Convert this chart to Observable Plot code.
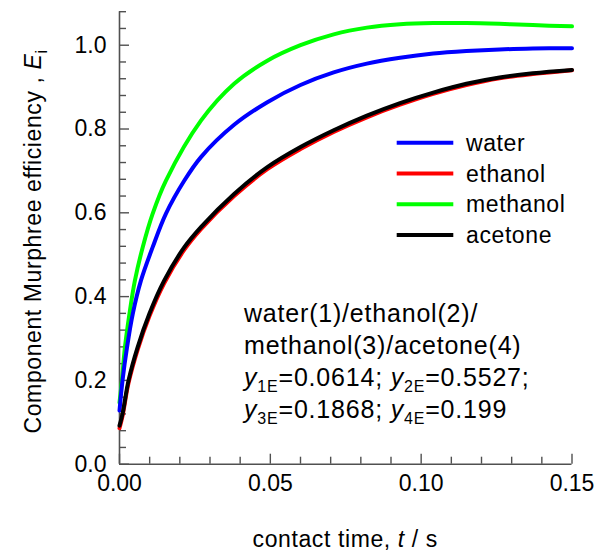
<!DOCTYPE html>
<html>
<head>
<meta charset="utf-8">
<script src="https://cdn.jsdelivr.net/npm/d3@7"></script>
<script src="https://cdn.jsdelivr.net/npm/@observablehq/plot@0.6"></script>
<style>
  html, body { margin: 0; padding: 0; background: #fff; }
  #chart svg { display: block; }
</style>
</head>
<body>
<div id="chart"></div>
<script>
// Contact time (s) and component Murphree efficiency for each component
const tWater    = [0, 0.001, 0.0025, 0.0044, 0.0071, 0.011, 0.0154, 0.0215, 0.027, 0.038, 0.049, 0.060, 0.071, 0.082, 0.093, 0.104, 0.115, 0.126, 0.137, 0.15];
const eWater    = [0.128, 0.20, 0.279, 0.359, 0.438, 0.518, 0.598, 0.677, 0.733, 0.810, 0.864, 0.905, 0.935, 0.956, 0.970, 0.980, 0.986, 0.990, 0.992, 0.993];

const tMethanol = [0, 0.0008, 0.0018, 0.0033, 0.0051, 0.0077, 0.011, 0.0154, 0.027, 0.038, 0.049, 0.060, 0.071, 0.082, 0.093, 0.104, 0.115, 0.126, 0.137, 0.15];
const eMethanol = [0.147, 0.20, 0.279, 0.359, 0.438, 0.518, 0.598, 0.677, 0.820, 0.908, 0.963, 1.000, 1.026, 1.042, 1.050, 1.053, 1.053, 1.051, 1.048, 1.045];

const tAcetone  = [0, 0.001, 0.003, 0.006, 0.0099, 0.0148, 0.0215, 0.027, 0.038, 0.049, 0.060, 0.071, 0.082, 0.093, 0.104, 0.115, 0.126, 0.137, 0.15];
const eAcetone  = [0.092, 0.12, 0.20, 0.279, 0.359, 0.438, 0.518, 0.566, 0.645, 0.709, 0.757, 0.797, 0.832, 0.862, 0.887, 0.908, 0.923, 0.933, 0.941];

const tEthanol  = [0, 0.001, 0.003, 0.006, 0.0099, 0.0148, 0.0215, 0.027, 0.038, 0.049, 0.060, 0.071, 0.082, 0.093, 0.104, 0.115, 0.126, 0.137, 0.15];
const eEthanol  = [0.086, 0.115, 0.194, 0.273, 0.353, 0.432, 0.512, 0.561, 0.640, 0.704, 0.752, 0.793, 0.828, 0.858, 0.884, 0.905, 0.921, 0.931, 0.940];

const seriesNames  = ["water", "ethanol", "methanol", "acetone"];
const seriesColors = ["#0000ff", "#ff0000", "#00ff00", "#000000"];

// Axis ticks
const xTicksMajor = [0, 0.05, 0.10, 0.15];
const xTicksMinor = [0.01, 0.02, 0.03, 0.04, 0.06, 0.07, 0.08, 0.09, 0.11, 0.12, 0.13, 0.14];
const yTicksMajor = [0, 0.2, 0.4, 0.6, 0.8, 1.0];
const yTicksMinor = [0.04, 0.08, 0.12, 0.16, 0.24, 0.28, 0.32, 0.36, 0.44, 0.48, 0.52, 0.56,
                     0.64, 0.68, 0.72, 0.76, 0.84, 0.88, 0.92, 0.96, 1.04, 1.08];

// Annotation lines
const noteLine1 = "water(1)/ethanol(2)/";
const noteLine2 = "methanol(3)/acetone(4)";
const noteParts3 = [["y", "1E", "=0.0614; "], ["y", "2E", "=0.5527;"]];
const noteParts4 = [["y", "3E", "=0.1868; "], ["y", "4E", "=0.199"]];

const toRows = (ts, es) => ts.map((t, i) => ({t, E: es[i]}));
const water    = toRows(tWater, eWater);
const ethanol  = toRows(tEthanol, eEthanol);
const methanol = toRows(tMethanol, eMethanol);
const acetone  = toRows(tAcetone, eAcetone);

const W = 599, H = 551;
const mL = 119, mR = 27.5, mT = 11.2, mB = 87.3;
const frameW = W - mL - mR, frameH = H - mT - mB;
const axisColor = "#505050";
const font = "'Liberation Sans', Arial, Helvetica, sans-serif";

const lineOpts = (color) => ({x: "t", y: "E", stroke: color, strokeWidth: 4, curve: "catmull-rom"});

const chart = Plot.plot({
  width: W,
  height: H,
  marginLeft: mL,
  marginRight: mR,
  marginTop: mT,
  marginBottom: mB,
  style: {fontFamily: font, background: "#fff", overflow: "visible"},
  x: {domain: [0, 0.15], axis: null},
  y: {domain: [0, 1.08], axis: null},
  marks: [
    // inward ticks
    Plot.ruleX(xTicksMinor, {x: d => d, insetTop: frameH - 7, stroke: axisColor, strokeWidth: 1.4}),
    Plot.ruleX(xTicksMajor, {x: d => d, insetTop: frameH - 10, stroke: axisColor, strokeWidth: 1.4}),
    Plot.ruleY(yTicksMinor, {y: d => d, insetRight: frameW - 7, stroke: axisColor, strokeWidth: 1.4}),
    Plot.ruleY(yTicksMajor, {y: d => d, insetRight: frameW - 10, stroke: axisColor, strokeWidth: 1.4}),
    // axis lines
    Plot.ruleX([0], {stroke: axisColor, strokeWidth: 1.6}),
    Plot.ruleY([0], {stroke: axisColor, strokeWidth: 1.6}),
    // tick labels
    Plot.text(xTicksMajor, {x: d => d, frameAnchor: "bottom", dy: 27, text: d3.format(".2f"),
      fontSize: 23, fill: "#000", textAnchor: "middle"}),
    Plot.text(yTicksMajor, {y: d => d, frameAnchor: "left", dx: -13, text: d3.format(".1f"),
      fontSize: 23, fill: "#000", textAnchor: "end"}),
    // curves
    Plot.line(methanol, lineOpts(seriesColors[2])),
    Plot.line(water, lineOpts(seriesColors[0])),
    Plot.line(ethanol, lineOpts(seriesColors[1])),
    Plot.line(acetone, lineOpts(seriesColors[3]))
  ]
});

document.getElementById("chart").appendChild(chart);

const svg = d3.select(chart);

// Legend
const legend = svg.append("g").attr("font-family", font).attr("font-size", 23)
  .attr("text-anchor", "start").attr("fill", "#000");
seriesNames.forEach((name, i) => {
  const y = 142.7 + i * 30.8;
  legend.append("line")
    .attr("x1", 396.7).attr("x2", 453.3).attr("y1", y).attr("y2", y)
    .attr("stroke", seriesColors[i]).attr("stroke-width", 4);
  legend.append("text")
    .attr("x", 466).attr("y", y).attr("dy", "0.35em")
    .attr("letter-spacing", "0.6px")
    .text(name);
});

// Annotation block
const note = svg.append("g").attr("font-family", font).attr("font-size", 25)
  .attr("text-anchor", "start").attr("letter-spacing", "0.8px").attr("fill", "#000");
note.append("text").attr("x", 244).attr("y", 322).text(noteLine1);
note.append("text").attr("x", 244).attr("y", 354).text(noteLine2);
[[noteParts3, 386], [noteParts4, 418]].forEach(([parts, y]) => {
  const t = note.append("text").attr("x", 244).attr("y", y);
  parts.forEach(([sym, sub, rest]) => {
    t.append("tspan").attr("font-style", "italic").text(sym);
    t.append("tspan").attr("font-size", 16).attr("dy", 6).text(sub);
    t.append("tspan").attr("dy", -6).text(rest);
  });
});

// Axis titles
const xTitle = svg.append("text")
  .attr("x", mL + frameW / 2).attr("y", 547)
  .attr("text-anchor", "middle").attr("font-family", font).attr("font-size", 23)
  .attr("letter-spacing", "0.6px");
xTitle.append("tspan").text("contact time, ");
xTitle.append("tspan").attr("font-style", "italic").text("t");
xTitle.append("tspan").text(" / s");

const yTitle = svg.append("text")
  .attr("transform", `translate(41,${mT + frameH / 2 + 4}) rotate(-90)`)
  .attr("text-anchor", "middle").attr("font-family", font).attr("font-size", 23)
  .attr("letter-spacing", "0.6px");
yTitle.append("tspan").text("Component Murphree efficiency , ");
yTitle.append("tspan").attr("font-style", "italic").text("E");
yTitle.append("tspan").attr("font-size", 16).attr("dy", 6).text("i");
</script>
</body>
</html>
